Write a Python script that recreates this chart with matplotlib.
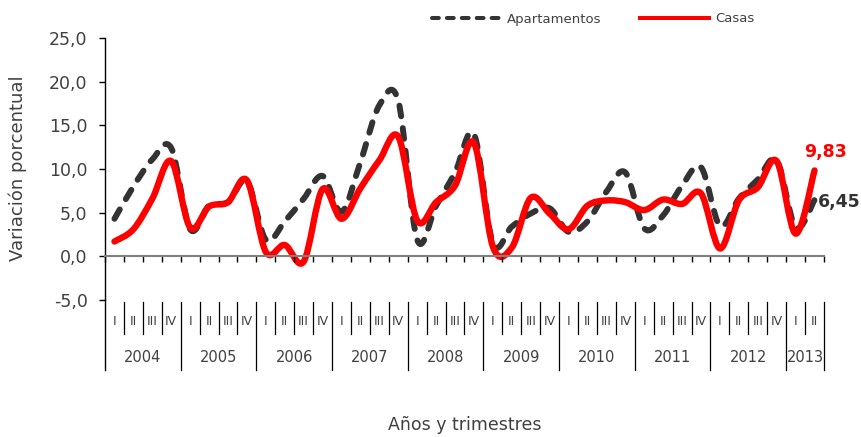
import numpy as np
import matplotlib
matplotlib.use("Agg")
import matplotlib.pyplot as plt
from matplotlib.path import Path
from matplotlib.patches import PathPatch
from matplotlib.lines import Line2D
from matplotlib import transforms
from matplotlib.ticker import FuncFormatter

# Datos trimestrales 2004-I a 2013-II
years = ["2004", "2005", "2006", "2007", "2008", "2009", "2010", "2011", "2012", "2013"]
quarters = ["I", "II", "III", "IV"]
n_quarters_per_year = [4, 4, 4, 4, 4, 4, 4, 4, 4, 2]

apartamentos = [4.3, 8.0, 11.1, 12.4, 3.1, 5.8, 6.2, 8.6, 1.9, 4.0,
                6.6, 9.2, 5.1, 10.8, 17.3, 17.8, 1.9, 5.8, 9.6, 14.0,
                1.5, 3.4, 4.9, 5.5, 2.8, 4.0, 7.4, 9.6, 3.2, 4.7,
                8.1, 10.2, 3.5, 6.6, 8.8, 11.0, 3.3, 6.45]
casas = [1.7, 3.1, 6.6, 10.9, 3.3, 5.7, 6.2, 8.7, 0.5, 1.3,
         -0.6, 7.7, 4.3, 7.8, 11.0, 13.7, 4.1, 6.2, 8.1, 13.0,
         1.1, 1.0, 6.7, 4.9, 3.1, 5.8, 6.4, 6.2, 5.3, 6.5,
         6.0, 7.2, 0.9, 6.4, 7.9, 10.9, 2.6, 9.83]

TEXT = "#404040"
DARK = "#333333"
RED = "#ff0000"


def smooth_path(xs, ys):
    # curva tipo Excel: Bezier cubica que pasa por cada punto
    P = np.column_stack([xs, ys]).astype(float)
    n = len(P)
    verts = [P[0]]
    codes = [Path.MOVETO]
    for i in range(n - 1):
        p_prev = P[max(i - 1, 0)]
        p_next = P[min(i + 2, n - 1)]
        c1 = P[i] + (P[i + 1] - p_prev) / 6.0
        c2 = P[i + 1] - (p_next - P[i]) / 6.0
        verts += [c1, c2, P[i + 1]]
        codes += [Path.CURVE4] * 3
    return Path(verts, codes)


fig = plt.figure(figsize=(8.62, 4.37), dpi=100)
ax = fig.add_axes([105 / 862, 1 - 300 / 437, 719 / 862, 262 / 437])

x = np.arange(len(casas))

ap_patch = PathPatch(smooth_path(x, apartamentos), facecolor="none", edgecolor=DARK,
                     lw=4.3, linestyle=(0, (1.8, 2.0)), capstyle="round", joinstyle="round")
ca_patch = PathPatch(smooth_path(x, casas), facecolor="none", edgecolor=RED,
                     lw=4.6, capstyle="round", joinstyle="round")
ax.add_patch(ap_patch)
ax.add_patch(ca_patch)

ax.set_xlim(-0.5, len(casas) - 0.5)
ax.set_ylim(-5, 25)
ax.set_yticks(np.arange(-5, 26, 5))
ax.yaxis.set_major_formatter(FuncFormatter(lambda v, p: f"{v:.1f}".replace(".", ",")))
ax.tick_params(axis="y", direction="out", length=4, width=1, pad=8.5,
               labelsize=12.5, labelcolor=TEXT, color="black")

# eje de categorias sobre el cero
ax.spines["top"].set_visible(False)
ax.spines["right"].set_visible(False)
ax.spines["bottom"].set_position(("data", 0))
ax.spines["bottom"].set_color("#808080")
ax.spines["bottom"].set_linewidth(1.5)
ax.spines["left"].set_linewidth(1)
ax.set_xticks(np.arange(-0.5, len(casas), 1))
ax.set_xticklabels([])
ax.tick_params(axis="x", direction="out", length=4, width=1, color="black")

# etiquetas de trimestres y años debajo del grafico
trans = transforms.blended_transform_factory(ax.transData, ax.transAxes)
ax.plot([-0.5, -0.5], [0, -0.267], transform=trans, color="black", lw=1, clip_on=False)
pos = 0
for year, nq in zip(years, n_quarters_per_year):
    for q in range(nq):
        ax.text(pos + q, -0.082, quarters[q], transform=trans, ha="center", va="center",
                fontsize=9, color=TEXT)
        if q < nq - 1:
            ax.plot([pos + q + 0.5] * 2, [-0.008, -0.13], transform=trans,
                    color="black", lw=0.9, clip_on=False)
    ax.plot([pos + nq - 0.5] * 2, [-0.008, -0.267], transform=trans,
            color="black", lw=0.9, clip_on=False)
    ax.text(pos + (nq - 1) / 2, -0.221, year, transform=trans, ha="center", va="center",
            fontsize=10.5, color=TEXT)
    pos += nq

# etiquetas del ultimo dato
ax.annotate(f"{casas[-1]:.2f}".replace(".", ","), xy=(x[-1], casas[-1]),
            xytext=(8, 13.5), textcoords="offset points", ha="center", va="center",
            fontsize=12.5, fontweight="bold", color=RED, annotation_clip=False)
ax.annotate(f"{apartamentos[-1]:.2f}".replace(".", ","), xy=(x[-1], apartamentos[-1]),
            xytext=(2.5, -1.5), textcoords="offset points", ha="left", va="center",
            fontsize=12.5, fontweight="bold", color=DARK, annotation_clip=False)

fig.text(18 / 862, 1 - 168 / 437, "Variación porcentual", rotation=90,
         ha="center", va="center", fontsize=13, color=TEXT)
fig.text(465 / 862, 1 - 425 / 437, "Años y trimestres", ha="center", va="center",
         fontsize=12.5, color=TEXT)

handles = [Line2D([], [], color=DARK, lw=2.9, linestyle=(0, (1.7, 2.0)),
                  dash_capstyle="round"),
           Line2D([], [], color=RED, lw=2.9)]
leg = fig.legend(handles, ["Apartamentos", "Casas"], loc="center left",
                 bbox_to_anchor=(432 / 862, 1 - 19 / 437), ncol=2, frameon=False,
                 fontsize=9.5, handlelength=5.2, handletextpad=0.5, columnspacing=2.9,
                 borderpad=0, borderaxespad=0)
for t in leg.get_texts():
    t.set_color(TEXT)

fig.savefig("out.png", dpi=100)
